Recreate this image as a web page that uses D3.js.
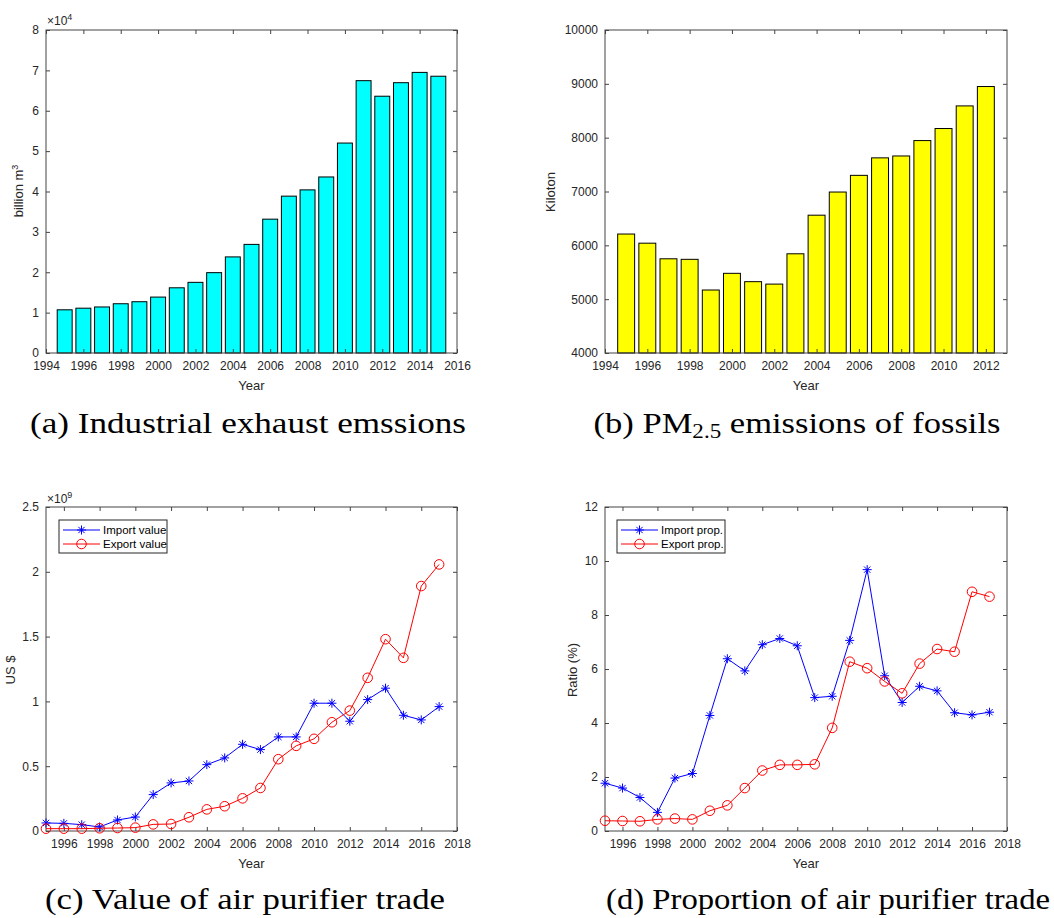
<!DOCTYPE html>
<html>
<head>
<meta charset="utf-8">
<script src="https://cdn.jsdelivr.net/npm/d3@7"></script>
<style>
  html, body { margin: 0; padding: 0; background: #fff; }
  svg { display: block; }
</style>
</head>
<body>
<svg id="fig" width="1054" height="918"></svg>
<script>
// ---- (a) Industrial exhaust emissions, billion m^3 ----
const exhaustYears = d3.range(1995, 2016);
const exhaustValues = [10700, 11100, 11400, 12200, 12700, 13850, 16150, 17500, 19900,
  23800, 26900, 33150, 38850, 40400, 43600, 52000, 67450, 63600, 66950, 69500, 68550];

// ---- (b) PM2.5 emissions of fossils, kiloton ----
const pmYears = d3.range(1995, 2013);
const pmValues = [6210, 6040, 5750, 5740, 5170, 5480, 5325, 5280, 5843,
  6560, 6990, 7300, 7625, 7660, 7946, 8170, 8590, 8950];

// ---- (c) Value of air purifier trade, US $ ----
const tradeYears = d3.range(1995, 2018);
const importValue = [0.062e9, 0.059e9, 0.049e9, 0.031e9, 0.085e9, 0.108e9, 0.281e9, 0.371e9,
  0.386e9, 0.512e9, 0.564e9, 0.669e9, 0.628e9, 0.726e9, 0.726e9, 0.986e9, 0.986e9, 0.847e9,
  1.014e9, 1.102e9, 0.893e9, 0.857e9, 0.960e9];
const exportValue = [0.018e9, 0.018e9, 0.018e9, 0.021e9, 0.023e9, 0.026e9, 0.051e9, 0.054e9,
  0.106e9, 0.167e9, 0.191e9, 0.252e9, 0.332e9, 0.554e9, 0.657e9, 0.711e9, 0.839e9, 0.929e9,
  1.182e9, 1.480e9, 1.336e9, 1.890e9, 2.057e9];

// ---- (d) Proportion of air purifier trade, % ----
const importProp = [1.77, 1.59, 1.24, 0.69, 1.96, 2.13, 4.28, 6.38, 5.93, 6.90, 7.13, 6.86,
  4.94, 4.99, 7.06, 9.68, 5.75, 4.76, 5.36, 5.19, 4.38, 4.30, 4.40];
const exportProp = [0.38, 0.37, 0.36, 0.43, 0.46, 0.43, 0.75, 0.95, 1.59, 2.24, 2.45, 2.45,
  2.47, 3.82, 6.27, 6.03, 5.54, 5.10, 6.20, 6.74, 6.64, 8.86, 8.68];

// ---- tick values ----
const ticksA_x = d3.range(1994, 2017, 2);
const ticksA_y = d3.range(0, 80001, 10000);
const ticksB_x = d3.range(1994, 2013, 2);
const ticksB_y = d3.range(4000, 10001, 1000);
const ticksC_x = d3.range(1996, 2019, 2);
const ticksC_y = [0, 0.5e9, 1e9, 1.5e9, 2e9, 2.5e9];
const ticksD_y = d3.range(0, 13, 2);

const svg = d3.select("#fig");
const AXIS = "#444";
const TEXT = "#262626";
const SANS = '"Liberation Sans", Arial, sans-serif';
const SERIF = '"Liberation Serif", "Times New Roman", serif';

// Boxed axes with inward ticks on all four sides
function frame(g, x, y, xt, yt, xfmt, yfmt) {
  const [x0, x1] = x.range();
  const [y0, y1] = y.range(); // y0 bottom, y1 top
  const tl = 4;
  const bottom = g.append("g").attr("transform", `translate(0,${y0})`)
    .call(d3.axisBottom(x).tickValues(xt).tickSize(-tl).tickPadding(8).tickFormat(xfmt));
  const top = g.append("g").attr("transform", `translate(0,${y1})`)
    .call(d3.axisTop(x).tickValues(xt).tickSize(-tl).tickFormat(""));
  const left = g.append("g").attr("transform", `translate(${x0},0)`)
    .call(d3.axisLeft(y).tickValues(yt).tickSize(-tl).tickPadding(7).tickFormat(yfmt));
  const right = g.append("g").attr("transform", `translate(${x1},0)`)
    .call(d3.axisRight(y).tickValues(yt).tickSize(-tl).tickFormat(""));
  [bottom, top, left, right].forEach(a => {
    a.selectAll(".domain").remove();
    a.selectAll(".tick line").attr("stroke", AXIS);
    a.selectAll(".tick text").attr("fill", TEXT)
      .style("font-size", "12px").style("font-family", SANS);
  });
  g.append("rect").attr("x", x0).attr("y", y1).attr("width", x1 - x0).attr("height", y0 - y1)
    .attr("fill", "none").attr("stroke", AXIS).attr("stroke-width", 1);
}

function xLabel(g, x, y, txt) {
  const [x0, x1] = x.range();
  g.append("text").attr("x", (x0 + x1) / 2).attr("y", y.range()[0] + 37)
    .attr("text-anchor", "middle").style("font-family", SANS).style("font-size", "13px")
    .attr("fill", TEXT).text(txt);
}

function yLabel(g, cx, cy) {
  return g.append("text").attr("transform", `translate(${cx},${cy}) rotate(-90)`)
    .attr("text-anchor", "middle").style("font-family", SANS).style("font-size", "13px")
    .attr("fill", TEXT);
}

function exponent(g, x, y, p) {
  const t = g.append("text").attr("x", x).attr("y", y).style("font-family", SANS)
    .style("font-size", "12px").attr("fill", TEXT);
  t.append("tspan").text("\u00d710");
  t.append("tspan").attr("dy", -5).style("font-size", "9px").text(p);
}

function caption(cx, y, len, build) {
  const t = svg.append("text").attr("x", cx).attr("y", y).attr("text-anchor", "middle")
    .style("font-family", SERIF).style("font-size", "30px").attr("fill", "#000");
  build(t);
  t.attr("textLength", len).attr("lengthAdjust", "spacingAndGlyphs");
}

function bars(g, x, y, years, vals, fill) {
  const base = y.domain()[0];
  g.append("g").selectAll("rect").data(years.map((yr, i) => ({ yr, v: vals[i] })))
    .join("rect")
    .attr("x", d => x(d.yr - 0.4))
    .attr("width", d => x(d.yr + 0.4) - x(d.yr - 0.4))
    .attr("y", d => y(d.v))
    .attr("height", d => y(base) - y(d.v))
    .attr("fill", fill).attr("stroke", "#000").attr("stroke-width", 1);
}

const starPath = s => {
  const d = s * 0.7;
  return `M${-s},0L${s},0M0,${-s}L0,${s}M${-d},${-d}L${d},${d}M${-d},${d}L${d},${-d}`;
};

function series(g, x, y, years, vals, color, marker) {
  const pts = years.map((yr, i) => [x(yr), y(vals[i])]);
  g.append("path").attr("d", d3.line()(pts)).attr("fill", "none")
    .attr("stroke", color).attr("stroke-width", 1);
  const m = g.append("g");
  pts.forEach(p => drawMarker(m, p[0], p[1], color, marker));
}

function drawMarker(g, px, py, color, marker) {
  if (marker === "star") {
    g.append("path").attr("transform", `translate(${px},${py})`).attr("d", starPath(4.5))
      .attr("fill", "none").attr("stroke", color).attr("stroke-width", 1);
  } else {
    g.append("circle").attr("cx", px).attr("cy", py).attr("r", 4.8)
      .attr("fill", "none").attr("stroke", color).attr("stroke-width", 1);
  }
}

function legend(g, x0, y0, w, items) {
  g.append("rect").attr("x", x0).attr("y", y0).attr("width", w).attr("height", 33)
    .attr("fill", "#fff").attr("stroke", "#262626").attr("stroke-width", 1);
  items.forEach((it, i) => {
    const yy = y0 + 10 + i * 14;
    g.append("line").attr("x1", x0 + 4).attr("x2", x0 + 41).attr("y1", yy).attr("y2", yy)
      .attr("stroke", it.color).attr("stroke-width", 1);
    drawMarker(g, x0 + 22.5, yy, it.color, it.marker);
    g.append("text").attr("x", x0 + 44).attr("y", yy + 4).style("font-family", SANS)
      .style("font-size", "11.5px").attr("fill", "#000").text(it.label);
  });
}

// ===== Panel (a) =====
{
  const g = svg.append("g");
  const x = d3.scaleLinear().domain([1994, 2016]).range([46, 457]);
  const y = d3.scaleLinear().domain([0, 80000]).range([353, 30]);
  bars(g, x, y, exhaustYears, exhaustValues, "#00ffff");
  frame(g, x, y, ticksA_x, ticksA_y, d3.format("d"), v => v / 10000);
  exponent(g, 47, 25, "4");
  xLabel(g, x, y, "Year");
  const t = yLabel(g, 23, 191);
  t.append("tspan").text("billion m");
  t.append("tspan").attr("dy", -5).style("font-size", "9px").text("3");
}

// ===== Panel (b) =====
{
  const g = svg.append("g");
  const x = d3.scaleLinear().domain([1994, 2013]).range([605, 1007]);
  const y = d3.scaleLinear().domain([4000, 10000]).range([353, 30]);
  bars(g, x, y, pmYears, pmValues, "#ffff00");
  frame(g, x, y, ticksB_x, ticksB_y, d3.format("d"), d3.format("d"));
  xLabel(g, x, y, "Year");
  yLabel(g, 555, 192).text("Kiloton");
}

// ===== Panel (c) =====
{
  const g = svg.append("g");
  const x = d3.scaleLinear().domain([1995, 2018]).range([46, 457]);
  const y = d3.scaleLinear().domain([0, 2.5e9]).range([831, 507]);
  frame(g, x, y, ticksC_x, ticksC_y, d3.format("d"), v => d3.format("")(v / 1e9));
  series(g, x, y, tradeYears, importValue, "#0000ff", "star");
  series(g, x, y, tradeYears, exportValue, "#ff0000", "circle");
  exponent(g, 47, 503, "9");
  xLabel(g, x, y, "Year");
  yLabel(g, 15, 670).text("US $");
  legend(g, 59, 520, 108, [
    { label: "Import value", color: "#0000ff", marker: "star" },
    { label: "Export value", color: "#ff0000", marker: "circle" }
  ]);
}

// ===== Panel (d) =====
{
  const g = svg.append("g");
  const x = d3.scaleLinear().domain([1995, 2018]).range([605, 1007]);
  const y = d3.scaleLinear().domain([0, 12]).range([831, 507]);
  frame(g, x, y, ticksC_x, ticksD_y, d3.format("d"), d3.format("d"));
  series(g, x, y, tradeYears, importProp, "#0000ff", "star");
  series(g, x, y, tradeYears, exportProp, "#ff0000", "circle");
  xLabel(g, x, y, "Year");
  yLabel(g, 577, 670).text("Ratio (%)");
  legend(g, 617, 520, 108, [
    { label: "Import prop.", color: "#0000ff", marker: "star" },
    { label: "Export prop.", color: "#ff0000", marker: "circle" }
  ]);
}

// ===== Captions =====
caption(248, 433, 436, t => t.text("(a) Industrial exhaust emssions"));
caption(797, 433, 407, t => {
  t.append("tspan").text("(b) PM");
  t.append("tspan").attr("dy", 5).style("font-size", "20px").text("2.5");
  t.append("tspan").attr("dy", -5).text(" emissions of fossils");
});
caption(245, 909, 400, t => t.text("(c) Value of air purifier trade"));
caption(828, 909, 444, t => t.text("(d) Proportion of air purifier trade"));
</script>
</body>
</html>
